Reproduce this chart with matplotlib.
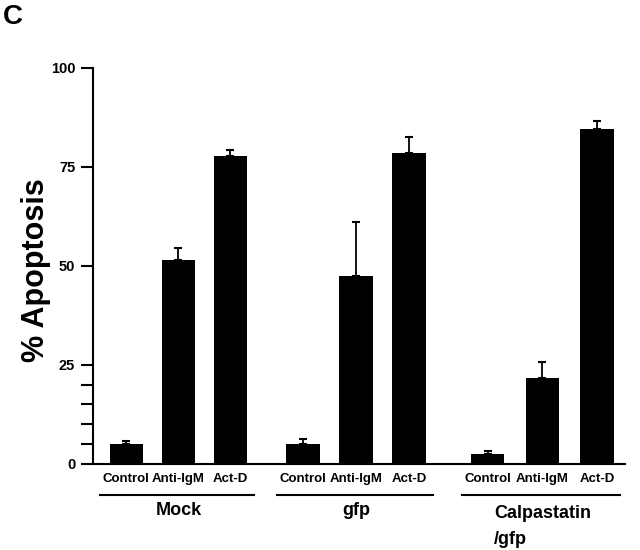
import matplotlib
matplotlib.use('Agg')
import matplotlib.pyplot as plt
from matplotlib.ticker import FixedLocator

plt.rcParams['font.family'] = ['Liberation Sans', 'DejaVu Sans']
plt.rcParams['font.weight'] = 'bold'

# data
groups = ['Mock', 'gfp', 'Calpastatin\n/gfp']
treatments = ['Control', 'Anti-IgM', 'Act-D']
mock_vals = [5.1, 51.4, 77.8]
mock_err = [0.6, 3.1, 1.4]
gfp_vals = [4.9, 47.3, 78.4]
gfp_err = [1.3, 13.8, 4.2]
calp_vals = [2.4, 21.7, 84.5]
calp_err = [0.7, 4.1, 2.0]

values = mock_vals + gfp_vals + calp_vals
errors = mock_err + gfp_err + calp_err
group_start = [0.0, 3.4, 6.95]
step = [1.0, 1.02, 1.05]
xs = []
for s, d in zip(group_start, step):
    xs += [s, s + d, s + 2 * d]

fig = plt.figure(figsize=(6.4, 5.5), dpi=100)
ax = fig.add_axes([93.3 / 640, 1 - 463.7 / 550, (625 - 93.3) / 640, 396 / 550])

ax.bar(xs, values, width=0.645, color='black', zorder=2)
ax.errorbar(xs, values, yerr=[[0] * len(errors), errors], fmt='none',
            ecolor='black', elinewidth=1.3, capsize=3.2, capthick=1.5, zorder=1)

ax.set_xlim(-0.635, 9.59)
ax.set_ylim(0, 100)
ax.spines['top'].set_visible(False)
ax.spines['right'].set_visible(False)
ax.spines['left'].set_linewidth(1.5)
ax.spines['bottom'].set_linewidth(1.5)
ax.set_xticks([])
ax.set_yticks([0, 25, 50, 75, 100])
ax.yaxis.set_minor_locator(FixedLocator([5, 10, 15, 20]))
ax.tick_params(axis='y', which='both', length=9, width=1.5, direction='out', pad=4)
for lab in ax.get_yticklabels():
    lab.set_fontsize(10.5)
    lab.set_fontweight('bold')

ax.set_ylabel('% Apoptosis', fontsize=22, fontweight='bold')
ax.yaxis.set_label_coords(-0.08, 0.49)

tr = ax.get_xaxis_transform()
for i, x in enumerate(xs):
    ax.text(x, -0.0386, treatments[i % 3], transform=tr, ha='center', va='center',
            fontsize=9.5, fontweight='bold', clip_on=False)

for g, name in enumerate(groups):
    gx = xs[g * 3:g * 3 + 3]
    ax.plot([gx[0] - 0.5, gx[2] + 0.45], [-0.079, -0.079], transform=tr,
            color='black', lw=1.5, clip_on=False)
    if '\n' in name:
        ax.text(gx[0] + 0.12, -0.104, name, transform=tr, ha='left', va='top',
                fontsize=13, fontweight='bold', linespacing=1.7, clip_on=False)
    else:
        ax.text((gx[0] + gx[2]) / 2, -0.119, name, transform=tr, ha='center', va='center',
                fontsize=13, fontweight='bold', clip_on=False)

fig.text(0.004, 1 - 24 / 550, 'C', fontsize=20, fontweight='bold', ha='left', va='baseline')

fig.savefig('out.png', dpi=100)
